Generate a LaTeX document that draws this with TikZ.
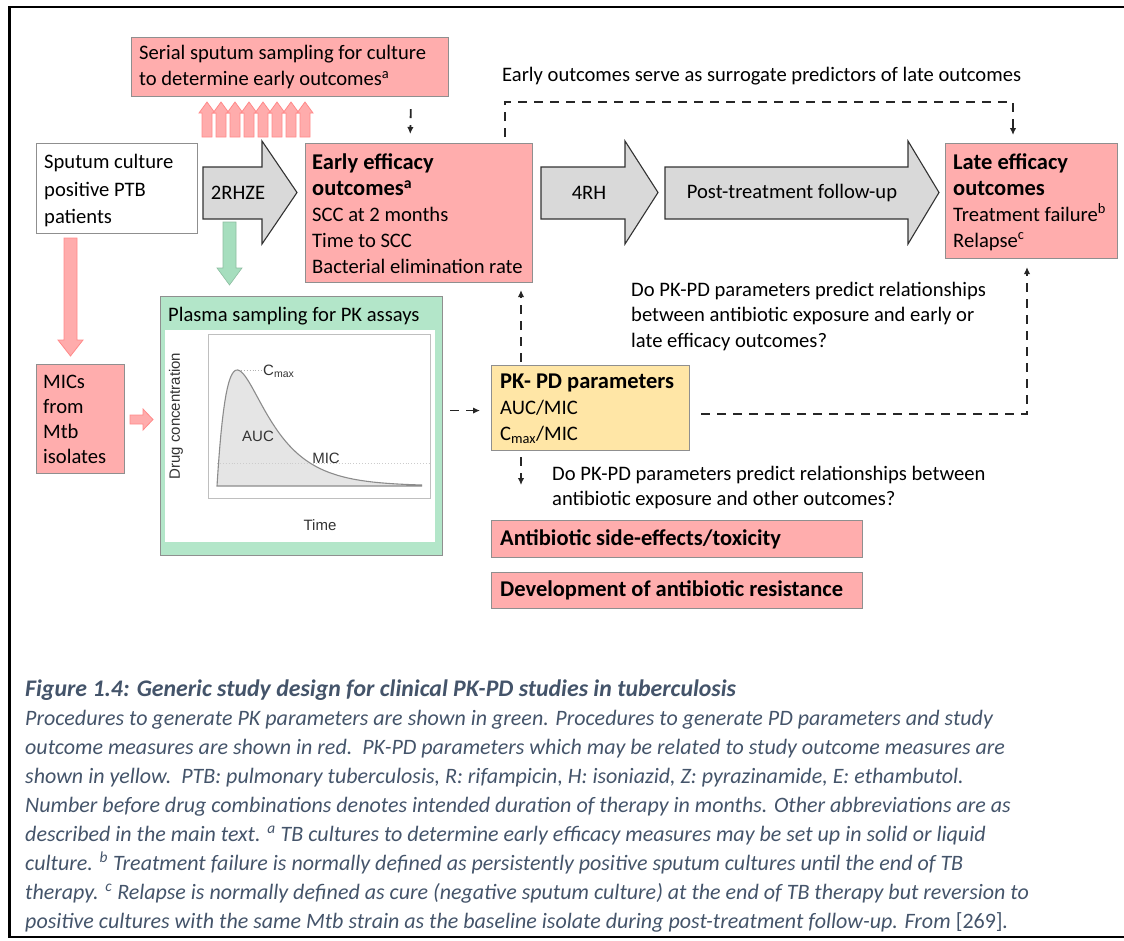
\documentclass[tikz,border=0pt]{standalone}
\usepackage{fontspec}
\setmainfont{Carlito}
\newfontfamily\chartfont{Liberation Sans}
\usetikzlibrary{arrows.meta}

\definecolor{redfill}{HTML}{FFADAD}
\definecolor{greenfill}{HTML}{B3E6C9}
\definecolor{yellowfill}{HTML}{FFE6A6}
\definecolor{arrowgray}{HTML}{D9D9D9}
\definecolor{edgegray}{HTML}{8F8F8F}
\definecolor{pinkarrowfill}{HTML}{FFA3A3}
\definecolor{pinkarrowedge}{HTML}{FF8A8A}
\definecolor{greenarrowfill}{HTML}{A6DEBE}
\definecolor{captionblue}{HTML}{44546A}
\definecolor{chartgray}{HTML}{8C8C8C}
\definecolor{dashgray}{HTML}{262626}

% bold headings inside the boxes
\newcommand\headtxt[1]{{\fontsize{22.5}{26}\selectfont\bfseries #1}}

\begin{document}
\begin{tikzpicture}[x=1pt,y=-1pt,
  txt/.style={font=\fontsize{20.6}{26}\selectfont, inner sep=0pt},
  boxtext/.style={txt, anchor=west, align=left},
  boxframe/.style={rectangle, draw=edgegray, line width=1.1pt, anchor=north west, inner sep=0pt},
  redbox/.style={boxframe, fill=redfill},
  whitebox/.style={boxframe, fill=white},
  greenbox/.style={boxframe, fill=greenfill},
  yellowbox/.style={boxframe, fill=yellowfill},
  blockarrow/.style={fill=arrowgray, draw=black!80, line width=1.1pt, line join=miter},
  pinkarrow/.style={fill=pinkarrowfill, draw=pinkarrowedge, line width=0.8pt, fill opacity=0.9},
  greenarrow/.style={fill=greenarrowfill, draw=greenarrowfill!85!black, line width=0.6pt},
  dashconn/.style={draw=dashgray, line width=1.8pt, dash pattern=on 9pt off 7pt},
  dasharrow/.style={dashconn, -{Latex[length=7pt,width=6.5pt]}},
  chartlabel/.style={font=\chartfont\fontsize{15}{18}\selectfont, text=black!80, inner sep=0pt},
  captionline/.style={font=\fontsize{22}{29}\selectfont\itshape, text=captionblue, inner sep=0pt, anchor=base west},
]
\useasboundingbox (0,0) rectangle (1124,940);

% outer frame (open on the right)
\draw[line width=2.6pt] (1130,7) -- (9.5,7) -- (9.5,937) -- (1130,937);

% ---------- top row ----------
\node[redbox, minimum width=317pt, minimum height=59pt] (serial) at (131,37) {};
\node[boxtext] (serialtext) at ([xshift=8pt]serial.west)
  {Serial sputum sampling for culture\\to determine early outcomes\textsuperscript{a}};

\node[txt, anchor=base west] (surrlabel) at (502,81)
  {Early outcomes serve as surrogate predictors of late outcomes};

% repeated sputum sampling arrows
\foreach \i in {0,...,7} {
  \pgfmathsetmacro\cx{207+14*\i}
  \draw[pinkarrow] (\cx-5,137) -- (\cx-5,113) -- (\cx-8,113) -- (\cx,102)
    -- (\cx+8,113) -- (\cx+5,113) -- (\cx+5,137) -- cycle;
}

% ---------- main row ----------
\node[whitebox, minimum width=161pt, minimum height=90pt] (sputum) at (36,143) {};
\node[boxtext, font=\fontsize{20.6}{27.5}\selectfont] (sputumtext) at ([xshift=8pt,yshift=-2pt]sputum.west)
  {Sputum culture\\positive PTB\\patients};

\node[redbox, minimum width=227pt, minimum height=139pt] (early) at (305,143) {};
\node[boxtext] (earlytext) at ([xshift=7pt,yshift=-1pt]early.west)
  {\headtxt{Early efficacy}\\\headtxt{outcomes\textsuperscript{a}}\\SCC at 2 months\\Time to SCC\\Bacterial elimination rate};

\node[redbox, minimum width=172pt, minimum height=115pt] (late) at (945,143) {};
\node[boxtext] (latetext) at ([xshift=8pt,yshift=-1pt]late.west)
  {\headtxt{Late efficacy}\\\headtxt{outcomes}\\Treatment failure\textsuperscript{b}\\Relapse\textsuperscript{c}};

% treatment phase arrows
\draw[blockarrow] (203,167) -- (262,167) -- (262,141) -- (297,192.5) -- (262,244) -- (262,219) -- (203,219) -- cycle;
\node[txt] (rhze) at (238,193) {2RHZE};

\draw[blockarrow] (541,167) -- (625,167) -- (625,141) -- (658,192.5) -- (625,244) -- (625,219) -- (541,219) -- cycle;
\node[txt] (rh) at (589,193) {4RH};

\draw[blockarrow] (665,167) -- (908,167) -- (908,141) -- (939,192.5) -- (908,244) -- (908,219) -- (665,219) -- cycle;
\node[txt] (followup) at (792,193) {Post-treatment follow-up};

% sampling arrows
\draw[pinkarrow] (64,238) -- (77,238) -- (77,340) -- (83,340) -- (70.5,356) -- (58,340) -- (64,340) -- cycle;
\draw[greenarrow] (223,222) -- (236,222) -- (236,268) -- (242,268) -- (229.5,285) -- (217,268) -- (223,268) -- cycle;
\draw[pinkarrow] (130,415) -- (143,415) -- (143,409) -- (153,419.5) -- (143,430) -- (143,424) -- (130,424) -- cycle;

% ---------- PK sampling ----------
\node[redbox, minimum width=88pt, minimum height=109pt] (mics) at (36,364) {};
\node[boxtext, font=\fontsize{20.6}{25}\selectfont] (micstext) at ([xshift=7pt]mics.west)
  {MICs\\from\\Mtb\\isolates};

\node[greenbox, minimum width=282pt, minimum height=259pt] (plasma) at (160,296) {};
\node[txt, anchor=base west] (plasmatitle) at (168,321) {Plasma sampling for PK assays};

% concentration-time profile
\fill[white] (165,330) rectangle (435,542);
\draw[black!25, line width=0.8pt] (208,334) rectangle (430,498);
\fill[black!10] (217,486) -- plot[domain=0:205, samples=160]
  ({217+\x},{486-314*(exp(-0.028*\x)-exp(-0.08*\x))}) -- (422,486) -- cycle;
\draw[black!20, dotted, line width=0.9pt] (217,463) -- (430,463);
\draw[black!30, dotted, line width=0.9pt] (238,370) -- (262,370);
\draw[chartgray, line width=1.1pt] (422,486) -- (217,486) -- plot[domain=0:205, samples=160]
  ({217+\x},{486-314*(exp(-0.028*\x)-exp(-0.08*\x))});
\node[chartlabel, anchor=west] (cmax) at (263,371) {C\textsubscript{max}};
\node[chartlabel] (auc) at (258,436) {AUC};
\node[chartlabel] (mic) at (326,458) {MIC};
\node[chartlabel, rotate=90] (ylab) at (176,416) {Drug concentration};
\node[chartlabel] (xlab) at (320,525) {Time};

% ---------- PK-PD parameters and outcomes ----------
\node[yellowbox, minimum width=198pt, minimum height=85pt] (pkpd) at (491,365) {};
\node[boxtext] (pkpdtext) at ([xshift=9pt,yshift=-1pt]pkpd.west)
  {\headtxt{PK- PD parameters}\\AUC/MIC\\C\textsubscript{max}/MIC};

\node[redbox, minimum width=371pt, minimum height=37pt] (tox) at (491,520) {};
\node[boxtext] (toxtext) at ([xshift=9pt]tox.west) {\headtxt{Antibiotic side-effects/toxicity}};
\node[redbox, minimum width=371pt, minimum height=36pt] (resist) at (491,572) {};
\node[boxtext] (resisttext) at ([xshift=9pt]resist.west) {\headtxt{Development of antibiotic resistance}};

\node[txt, anchor=base west] (qa1) at (631,296) {Do PK-PD parameters predict relationships};
\node[txt, anchor=base west] (qa2) at (631,321) {between antibiotic exposure and early or};
\node[txt, anchor=base west] (qa3) at (631,347) {late efficacy outcomes?};
\node[txt, anchor=base west] (qb1) at (552,480) {Do PK-PD parameters predict relationships between};
\node[txt, anchor=base west] (qb2) at (552,505) {antibiotic exposure and other outcomes?};

% ---------- dashed relations ----------
\draw[dasharrow, shorten <=12pt, shorten >=9pt] ([xshift=-38pt]serial.south east) -- ([xshift=105pt]early.north west);

\coordinate (surrtop) at (505,102);
\draw[dasharrow, shorten >=8pt] ([yshift=6pt]early.north -| surrtop) -- (surrtop)
  -- ([xshift=68pt]late.north west |- surrtop) -- ([xshift=68pt]late.north west);

\draw[dasharrow, shorten <=3pt, shorten >=7pt] ([xshift=30pt]pkpd.north west) -- ([xshift=30pt]pkpd.north west |- early.south);

\coordinate (latecorner) at (1027,414);
\draw[dasharrow, shorten >=8pt] ([xshift=11pt]pkpd.east |- latecorner) -- (latecorner) -- (latecorner |- late.south);

\draw[dasharrow, shorten <=6pt, shorten >=35pt] ([xshift=30pt]pkpd.south west) -- ([xshift=30pt]tox.north west);

\draw[dasharrow, shorten <=7pt, shorten >=11pt] ([yshift=-2.5pt]plasma.east |- pkpd.west) -- ([yshift=-2.5pt]pkpd.west);

% ---------- caption ----------
\node[captionline, font=\fontsize{23.8}{29}\selectfont\bfseries\itshape] (cap1) at (25,696)
  {Figure 1.4: Generic study design for clinical PK-PD studies in tuberculosis};
\node[captionline] (cap2) at (25,725)
  {Procedures to generate PK parameters are shown in green. Procedures to generate PD parameters and study};
\node[captionline] (cap3) at (25,754)
  {outcome measures are shown in red.\ \ PK-PD parameters which may be related to study outcome measures are};
\node[captionline] (cap4) at (25,783)
  {shown in yellow.\ \ PTB: pulmonary tuberculosis, R: rifampicin, H: isoniazid, Z: pyrazinamide, E: ethambutol.};
\node[captionline] (cap5) at (25,812)
  {Number before drug combinations denotes intended duration of therapy in months. Other abbreviations are as};
\node[captionline] (cap6) at (25,841)
  {described in the main text. \textsuperscript{a} TB cultures to determine early efficacy measures may be set up in solid or liquid};
\node[captionline] (cap7) at (25,870)
  {culture. \textsuperscript{b} Treatment failure is normally defined as persistently positive sputum cultures until the end of TB};
\node[captionline] (cap8) at (25,899)
  {therapy. \textsuperscript{c} Relapse is normally defined as cure (negative sputum culture) at the end of TB therapy but reversion to};
\node[captionline] (cap9) at (25,928)
  {positive cultures with the same Mtb strain as the baseline isolate during post-treatment follow-up. From \textup{[269]}.};

\end{tikzpicture}
\end{document}
